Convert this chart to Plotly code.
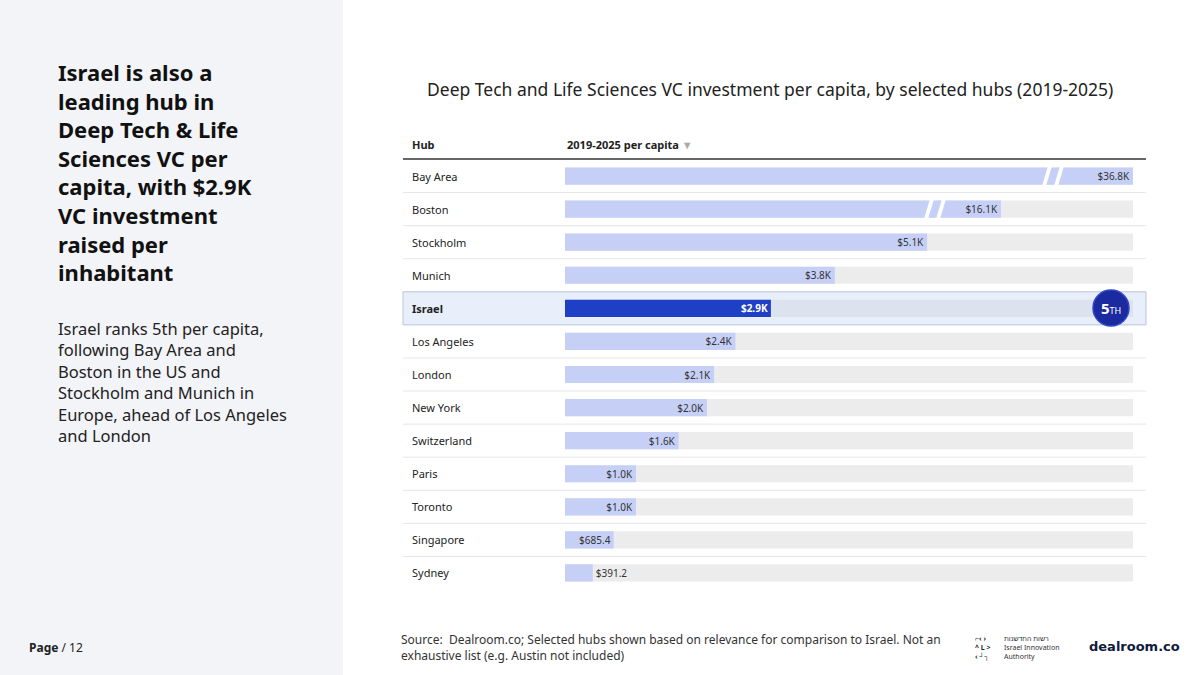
import plotly.graph_objects as go

hubs = ["Bay Area","Boston","Stockholm","Munich","Israel","Los Angeles","London","New York",
        "Switzerland","Paris","Toronto","Singapore","Sydney"]
values_k = [36.8,16.1,5.1,3.8,2.9,2.4,2.1,2.0,1.6,1.0,1.0,0.6854,0.3912]
labels = ["$36.8K","$16.1K","$5.1K","$3.8K","$2.9K","$2.4K","$2.1K","$2.0K","$1.6K","$1.0K","$1.0K","$685.4","$391.2"]
AXIS_MAX = 8.0
# broken-axis display length for outliers (axis break drawn on these bars)
broken_display = {"Bay Area": 8.0, "Boston": 6.14}
shown = [broken_display.get(h, v) for h, v in zip(hubs, values_k)]

W, H = 1200, 675
def px(x): return x / W
def py(y): return 1 - y / H

x0p, x1p = 565, 1133
top, bot = 159.5, 589.5
row_h = (bot - top) / len(hubs)

colors = ["#1f3fc4" if h == "Israel" else "#c6d0f7" for h in hubs]
tcol = ["white" if h == "Israel" else "#333" for h in hubs]
tlab = [f"<b>{l}</b>" if h == "Israel" else l for h, l in zip(hubs, labels)]
tpos = ["outside" if v < 0.5 else "inside" for v in shown]

fig = go.Figure()
fig.add_bar(y=hubs, x=[AXIS_MAX]*len(hubs), orientation="h", marker_color=["#dde3ee" if h=="Israel" else "#ececec" for h in hubs],
            width=0.52, hoverinfo="skip", showlegend=False, marker_line_width=0)
fig.add_bar(y=hubs, x=shown, orientation="h", marker_color=colors, width=0.52, marker_line_width=0,
            text=tlab, textposition=tpos, insidetextanchor="end", constraintext="none",
            textfont=dict(size=10, color=tcol),
            showlegend=False, cliponaxis=False)

shapes = [dict(type="rect", xref="paper", yref="paper", x0=0, x1=px(343), y0=0, y1=1,
               fillcolor="#f3f4f8", line_width=0, layer="below")]
ii = hubs.index("Israel")
shapes.append(dict(type="rect", xref="paper", yref="paper", x0=px(403), x1=px(1146),
                   y0=py(top+row_h*(ii+1)), y1=py(top+row_h*ii), fillcolor="#e9eefb",
                   line=dict(color="#b9c4de", width=1), layer="below"))
for i in range(1, len(hubs)):
    if i in (ii, ii+1): continue
    yy = py(top + row_h*i)
    shapes.append(dict(type="line", xref="paper", yref="paper", x0=px(403), x1=px(1146), y0=yy, y1=yy,
                       line=dict(color="#e6e6e6", width=1), layer="below"))
shapes.append(dict(type="line", xref="paper", yref="paper", x0=px(403), x1=px(1146), y0=py(159), y1=py(159),
                   line=dict(color="#333", width=1.5)))
# axis break marks
for i, xb in [(0, 1042), (1, 924)]:
    yc = top + row_h*(i+0.5)
    for dx in (0, 12):
        xa = xb + dx
        shapes.append(dict(type="path", xref="paper", yref="paper",
                           path=f"M {px(xa)} {py(yc+10)} L {px(xa+4)} {py(yc+10)} L {px(xa+10)} {py(yc-10)} L {px(xa+6)} {py(yc-10)} Z",
                           fillcolor="white", line_width=0))
# badge
shapes.append(dict(type="circle", xref="paper", yref="paper", x0=px(1093), x1=px(1129), y0=py(326), y1=py(290),
                   fillcolor="#1b2a9e", line=dict(color="#3047c9", width=1.5)))

def A(x, y, text, size, color="#222", xanchor="left", yanchor="middle", yref="paper", **kw):
    return dict(x=x, y=y, xref="paper", yref=yref, text=text, showarrow=False, xanchor=xanchor,
                yanchor=yanchor, align="left", font=dict(size=size, color=color, **kw))

ann = [A(px(410), h, f"<b>{h}</b>" if h == "Israel" else h, 11, yref="y") for h in hubs]
ann += [
    A(px(410), py(144), "<b>Hub</b>", 11),
    A(px(565), py(144), "<b>2019-2025 per capita</b> <span style='color:#aaa'>▼</span>", 11),
    A(px(770), py(89), "Deep Tech and Life Sciences VC investment per capita, by selected hubs (2019-2025)", 17.5, xanchor="center"),
    A(px(1111), py(308), "<b>5</b><span style='font-size:9px'>TH</span>", 15, color="white", xanchor="center"),
    A(px(56), py(55), "<b>Israel is also a<br>leading hub in<br>Deep Tech &amp; Life<br>Sciences VC per<br>capita, with $2.9K<br>VC investment<br>raised per<br>inhabitant</b>",
      22, color="#111", yanchor="top"),
    A(px(56), py(315), "Israel ranks 5th per capita,<br>following Bay Area and<br>Boston in the US and<br>Stockholm and Munich in<br>Europe, ahead of Los Angeles<br>and London",
      16.5, yanchor="top"),
    A(px(27), py(647), "<b>Page</b> / 12", 12),
    A(px(399), py(647), "Source:  Dealroom.co; Selected hubs shown based on relevance for comparison to Israel. Not an<br>exhaustive list (e.g. Austin not included)", 12, color="#333"),
    A(px(973), py(647), "<b>⌐‹ ›<br>^ L ><br>‹ ┘┐</b>", 7),
    A(px(1002), py(647), "רשות החדשנות<br>Israel Innovation<br>Authority", 7, color="#333"),
    A(px(1087), py(646), "<b>dealroom.co</b>", 13, color="#101a3c", family="DejaVu Sans"),
]

fig.update_layout(
    width=W, height=H, margin=dict(l=0, r=0, t=0, b=0), paper_bgcolor="white", plot_bgcolor="rgba(0,0,0,0)",
    barmode="overlay", shapes=shapes, annotations=ann,
    font=dict(family="Source Sans Pro, Noto Sans, sans-serif"),
    xaxis=dict(domain=[px(x0p), px(x1p)], range=[0, AXIS_MAX], visible=False, fixedrange=True),
    yaxis=dict(domain=[py(bot), py(top)], autorange="reversed", visible=False, categoryorder="array", categoryarray=hubs),
)
fig.write_html("out.html", config={"displayModeBar": False})
with open("out.html", encoding="utf-8") as f:
    html = f.read()
html = html.replace("<body>", "<body style=\"margin:0;overflow:hidden\">", 1)
with open("out.html", "w", encoding="utf-8") as f:
    f.write(html)
